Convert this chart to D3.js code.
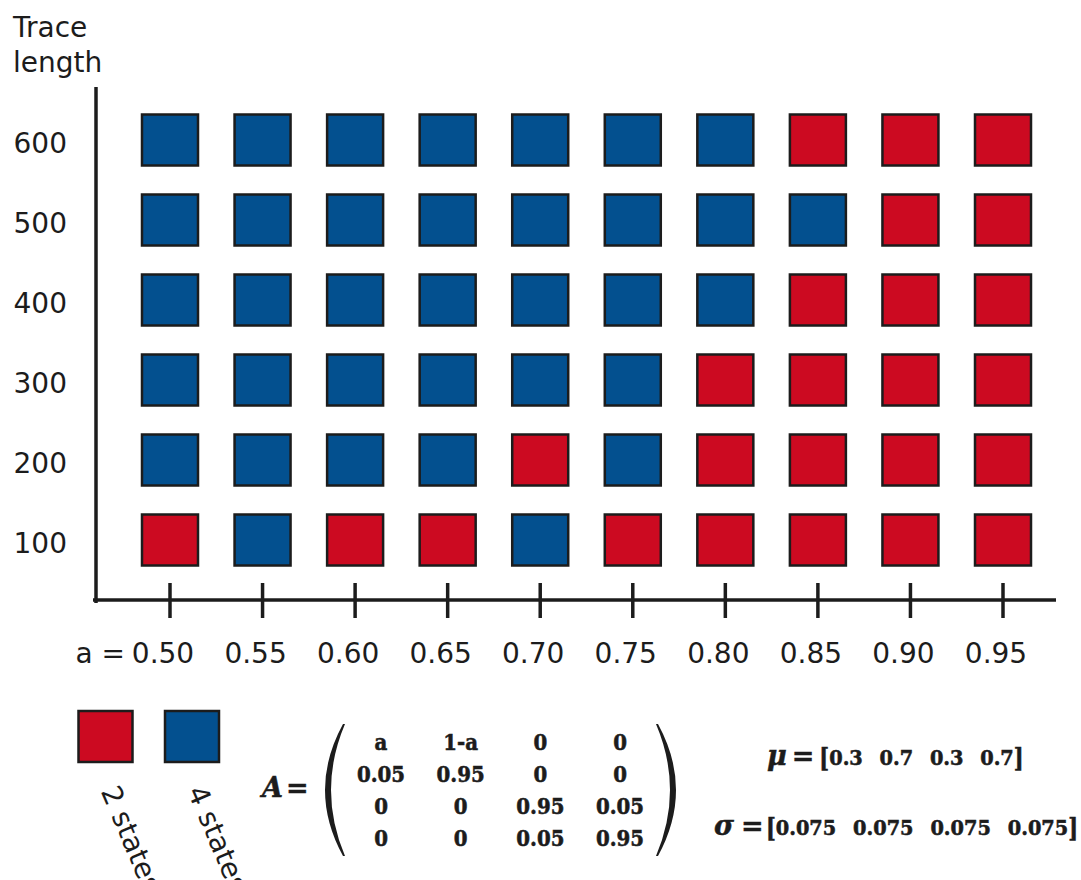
<!DOCTYPE html>
<html>
<head>
<meta charset="utf-8">
<script src="https://cdn.jsdelivr.net/npm/d3@7"></script>
<style>
  html, body { margin: 0; padding: 0; background: #fff; }
  svg { display: block; }
</style>
</head>
<body>
<svg id="chart" width="1081" height="880"></svg>
<script>
// Self-transition probability a (columns) and trace length (rows)
const aValues = [0.50, 0.55, 0.60, 0.65, 0.70, 0.75, 0.80, 0.85, 0.90, 0.95];
const traceLengths = [100, 200, 300, 400, 500, 600];

// Number of states selected by the model comparison, per trace length
const selected100 = [2, 4, 2, 2, 4, 2, 2, 2, 2, 2];
const selected200 = [4, 4, 4, 4, 2, 4, 2, 2, 2, 2];
const selected300 = [4, 4, 4, 4, 4, 4, 2, 2, 2, 2];
const selected400 = [4, 4, 4, 4, 4, 4, 4, 2, 2, 2];
const selected500 = [4, 4, 4, 4, 4, 4, 4, 4, 2, 2];
const selected600 = [4, 4, 4, 4, 4, 4, 4, 2, 2, 2];

const stateCounts = [2, 4];
const stateLabels = ["2 states", "4 states"];

// Generating model parameters
const matrixRows = [
  ["a", "1-a", "0", "0"],
  ["0.05", "0.95", "0", "0"],
  ["0", "0", "0.95", "0.05"],
  ["0", "0", "0.05", "0.95"]
];
const muValues = ["0.3", "0.7", "0.3", "0.7"];
const sigmaValues = ["0.075", "0.075", "0.075", "0.075"];

const selectedByLength = [selected100, selected200, selected300, selected400, selected500, selected600];
const cells = [];
traceLengths.forEach((t, i) => {
  aValues.forEach((a, j) => cells.push({ a, t, states: selectedByLength[i][j] }));
});

const svg = d3.select("#chart");
const sansFont = "'DejaVu Sans', sans-serif";
const serifFont = "'DejaVu Serif', serif";
const ink = "#1c1c1c";

const x = d3.scalePoint().domain(aValues).range([170, 1003]);
const y = d3.scalePoint().domain(traceLengths).range([540, 140]);
const color = d3.scaleOrdinal().domain(stateCounts).range(["#cc0a21", "#03508f"]);

const cellW = 56, cellH = 51;

// Axis lines
svg.append("line")
  .attr("x1", 96).attr("x2", 96).attr("y1", 87).attr("y2", 603)
  .attr("stroke", ink).attr("stroke-width", 3.5);
svg.append("line")
  .attr("x1", 93).attr("x2", 1056).attr("y1", 600).attr("y2", 600)
  .attr("stroke", ink).attr("stroke-width", 3.5);

// Tick marks crossing the x axis
svg.append("g").selectAll("line")
  .data(aValues).join("line")
  .attr("x1", d => x(d)).attr("x2", d => x(d))
  .attr("y1", 583).attr("y2", 618)
  .attr("stroke", ink).attr("stroke-width", 3.5);

// Tick labels
svg.append("g").selectAll("text")
  .data(aValues).join("text")
  .attr("x", d => x(d) - 7).attr("y", 663)
  .attr("text-anchor", "middle")
  .attr("font-family", sansFont).attr("font-size", 28).attr("fill", ink)
  .text(d => d3.format(".2f")(d));

svg.append("text")
  .attr("x", 125).attr("y", 663).attr("text-anchor", "end")
  .attr("font-family", sansFont).attr("font-size", 28).attr("fill", ink)
  .text("a =");

svg.append("g").selectAll("text")
  .data(traceLengths).join("text")
  .attr("x", 67).attr("y", d => y(d) + 13)
  .attr("text-anchor", "end")
  .attr("font-family", sansFont).attr("font-size", 28).attr("fill", ink)
  .text(d => d);

const yTitle = svg.append("text")
  .attr("font-family", sansFont).attr("font-size", 28).attr("fill", ink);
yTitle.append("tspan").attr("x", 13).attr("y", 37).text("Trace");
yTitle.append("tspan").attr("x", 13).attr("y", 72).text("length");

// Grid of selected model sizes
svg.append("g").selectAll("rect")
  .data(cells).join("rect")
  .attr("x", d => x(d.a) - cellW / 2)
  .attr("y", d => y(d.t) - cellH / 2)
  .attr("width", cellW).attr("height", cellH)
  .attr("fill", d => color(d.states))
  .attr("stroke", ink).attr("stroke-width", 2.5);

// Legend
const legendX = d3.scalePoint().domain(stateCounts).range([105.5, 192]);
const legend = svg.append("g");
legend.selectAll("rect")
  .data(stateCounts).join("rect")
  .attr("x", d => legendX(d) - 27)
  .attr("y", 711)
  .attr("width", 54).attr("height", 51)
  .attr("fill", d => color(d))
  .attr("stroke", ink).attr("stroke-width", 2.5);
legend.selectAll("text")
  .data(stateCounts).join("text")
  .attr("transform", d => `translate(${legendX(d) - 5},791) rotate(67)`)
  .attr("font-family", sansFont).attr("font-size", 28).attr("fill", ink)
  .text((d, i) => stateLabels[i]);

// Bold math text, slightly narrowed to the proportions of a bold roman face
function mathText(parent, str, tx, ty, size, anchor, sx) {
  return parent.append("text")
    .attr("transform", `translate(${tx},${ty}) scale(${sx},1)`)
    .attr("text-anchor", anchor)
    .attr("font-family", serifFont).attr("font-weight", "bold")
    .attr("font-size", size).attr("fill", ink)
    .attr("stroke", ink).attr("stroke-width", 0.6)
    .text(str);
}

// Transition matrix
const eq = svg.append("text")
  .attr("x", 262).attr("y", 797)
  .attr("font-family", serifFont).attr("font-weight", "bold")
  .attr("font-size", 27).attr("fill", ink)
  .attr("stroke", ink).attr("stroke-width", 0.5);
eq.append("tspan").attr("font-style", "italic").text("A");
eq.append("tspan").attr("dx", 3).text("=");

const colX = d3.scalePoint().domain(d3.range(4)).range([381, 620]);
const rowY = d3.scalePoint().domain(d3.range(4)).range([750, 845.5]);
const matrixG = svg.append("g");
matrixRows.forEach((row, r) => {
  row.forEach((v, c) => mathText(matrixG, v, colX(c), rowY(r), 23, "middle", 0.86));
});

// Parentheses around the matrix
const parenTop = 724, parenBottom = 856, parenMid = (parenTop + parenBottom) / 2;
function paren(xEnd, xOuter, xInner) {
  const dir = xEnd > xOuter ? -1 : 1;
  const xEndIn = xEnd - dir * 2;
  const cOuter = 2 * xOuter - xEnd, cInner = 2 * xInner - xEndIn;
  return `M${xEnd},${parenTop} Q${cOuter},${parenMid} ${xEnd},${parenBottom}` +
         ` L${xEndIn},${parenBottom} Q${cInner},${parenMid} ${xEndIn},${parenTop} Z`;
}
svg.append("path").attr("d", paren(343, 325, 331)).attr("fill", ink);
svg.append("path").attr("d", paren(658, 676, 670)).attr("fill", ink);

// Emission means and standard deviations
function vectorLine(symbol, values, symX, baseY, first, last, gap) {
  const g = svg.append("g");
  const lab = g.append("text").attr("x", symX).attr("y", baseY)
    .attr("font-family", serifFont).attr("font-weight", "bold")
    .attr("font-size", 27).attr("fill", ink)
    .attr("stroke", ink).attr("stroke-width", 0.5);
  lab.append("tspan").attr("font-style", "italic").text(symbol);
  lab.append("tspan").attr("dx", gap).text("=");
  const sx = 0.92;
  const vx = d3.scalePoint().domain(d3.range(values.length)).range([first, last]);
  const nums = values.map((v, i) => mathText(g, v, vx(i), baseY, 21, "middle", sx));
  const w0 = nums[0].node().getComputedTextLength() * sx;
  const wN = nums[values.length - 1].node().getComputedTextLength() * sx;
  mathText(g, "[", first - w0 / 2, baseY + 2, 26, "end", 0.8);
  mathText(g, "]", last + wN / 2, baseY + 2, 26, "start", 0.8);
}
vectorLine("μ", muValues, 767, 765, 846, 997, 5);
vectorLine("σ", sigmaValues, 714, 835, 806, 1038, 7);
</script>
</body>
</html>
